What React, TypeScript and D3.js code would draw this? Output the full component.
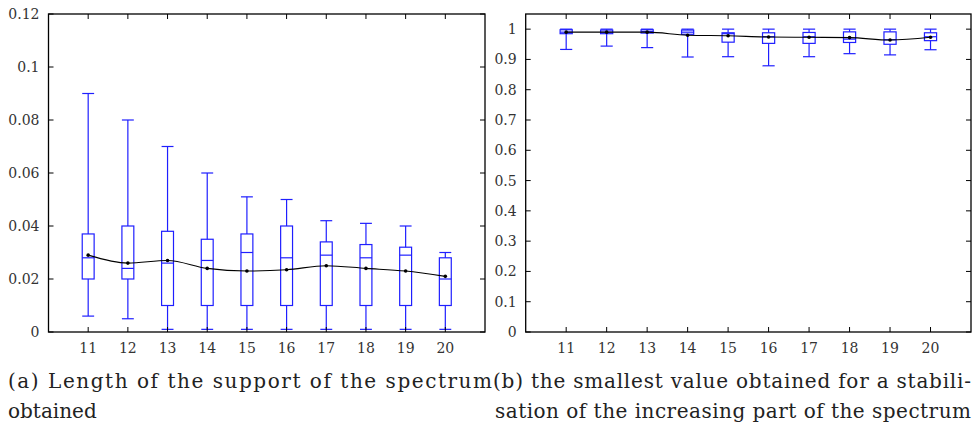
import React from "react";
import * as d3 from "d3";

const categories = [11, 12, 13, 14, 15, 16, 17, 18, 19, 20];

// Chart (a): Length of the support of the spectrum
const aMin = [0.006, 0.005, 0.001, 0.001, 0.001, 0.001, 0.001, 0.001, 0.001, 0.001];
const aQ1 = [0.02, 0.02, 0.01, 0.01, 0.01, 0.01, 0.01, 0.01, 0.01, 0.01];
const aMed = [0.028, 0.024, 0.026, 0.027, 0.03, 0.028, 0.029, 0.028, 0.029, 0.02];
const aQ3 = [0.037, 0.04, 0.038, 0.035, 0.037, 0.04, 0.034, 0.033, 0.032, 0.028];
const aMax = [0.09, 0.08, 0.07, 0.06, 0.051, 0.05, 0.042, 0.041, 0.04, 0.03];
const aMean = [0.029, 0.026, 0.027, 0.024, 0.023, 0.0235, 0.025, 0.024, 0.023, 0.021];
const aTicks = [0, 0.02, 0.04, 0.06, 0.08, 0.1, 0.12];
const aTickLabels = ["0", "0.02", "0.04", "0.06", "0.08", "0.1", "0.12"];

// Chart (b): smallest value obtained for a stabilisation
const bMin = [0.933, 0.944, 0.939, 0.908, 0.909, 0.879, 0.909, 0.919, 0.915, 0.932];
const bQ1 = [0.985, 0.985, 0.987, 0.983, 0.957, 0.953, 0.953, 0.956, 0.95, 0.962];
const bMed = [0.99, 0.99, 0.992, 0.99, 0.985, 0.975, 0.975, 0.967, 0.965, 0.975];
const bQ3 = [0.998, 0.997, 0.998, 0.997, 0.988, 0.988, 0.989, 0.991, 0.991, 0.988];
const bMax = [1.0, 1.0, 1.0, 1.0, 1.0, 1.0, 1.0, 1.0, 1.0, 1.0];
const bMean = [0.99, 0.99, 0.99, 0.98, 0.978, 0.974, 0.973, 0.972, 0.964, 0.973];
const bTicks = [0, 0.1, 0.2, 0.3, 0.4, 0.5, 0.6, 0.7, 0.8, 0.9, 1];
const bTickLabels = ["0", "0.1", "0.2", "0.3", "0.4", "0.5", "0.6", "0.7", "0.8", "0.9", "1"];

const captionA1 = "(a) Length of the support of the spectrum";
const captionA2 = "obtained";
const captionB1 = "(b) the smallest value obtained for a stabili-";
const captionB2 = "sation of the increasing part of the spectrum";

const FONT = "DejaVu Serif";
const BLUE = "#1f1fff";

type PanelProps = {
  x0: number;
  x1: number;
  y0: number;
  y1: number;
  yDomain: [number, number];
  ticks: number[];
  tickLabels: string[];
  mins: number[];
  q1: number[];
  med: number[];
  q3: number[];
  maxs: number[];
  means: number[];
};

function Panel(p: PanelProps) {
  const x = d3.scaleLinear().domain([10, 21]).range([p.x0, p.x1]);
  const y = d3.scaleLinear().domain(p.yDomain).range([p.y1, p.y0]);
  const bw = (x(11) - x(10)) * 0.3;
  const tl = 5;
  const line = d3
    .line<number>()
    .x((_, i) => x(categories[i]))
    .y((d) => y(d))
    .curve(d3.curveMonotoneX);
  return (
    <g>
      {categories.map((c, i) => {
        const cx = x(c);
        return (
          <g key={c} stroke={BLUE} strokeWidth={1.2} fill="none">
            <line x1={cx} x2={cx} y1={y(p.q3[i])} y2={y(p.maxs[i])} />
            <line x1={cx} x2={cx} y1={y(p.q1[i])} y2={y(p.mins[i])} />
            <line x1={cx - bw / 2} x2={cx + bw / 2} y1={y(p.maxs[i])} y2={y(p.maxs[i])} />
            <line x1={cx - bw / 2} x2={cx + bw / 2} y1={y(p.mins[i])} y2={y(p.mins[i])} />
            <rect x={cx - bw / 2} y={y(p.q3[i])} width={bw} height={y(p.q1[i]) - y(p.q3[i])} />
            <line x1={cx - bw / 2} x2={cx + bw / 2} y1={y(p.med[i])} y2={y(p.med[i])} />
          </g>
        );
      })}
      <path d={line(p.means) || ""} fill="none" stroke="#000" strokeWidth={1.1} />
      {p.means.map((m, i) => (
        <circle key={i} cx={x(categories[i])} cy={y(m)} r={1.8} fill="#000" />
      ))}
      <rect x={p.x0} y={p.y0} width={p.x1 - p.x0} height={p.y1 - p.y0} fill="none" stroke="#000" strokeWidth={1.3} />
      {p.ticks.map((t, i) => (
        <g key={"y" + i}>
          <line x1={p.x0} x2={p.x0 + tl} y1={y(t)} y2={y(t)} stroke="#000" strokeWidth={1} />
          <line x1={p.x1} x2={p.x1 - tl} y1={y(t)} y2={y(t)} stroke="#000" strokeWidth={1} />
          <text
            x={p.x0 - 9}
            y={y(t)}
            dy="0.36em"
            textAnchor="end"
            fontFamily={FONT}
            fontSize={14}
            fill="#333"
          >
            {p.tickLabels[i]}
          </text>
        </g>
      ))}
      {categories.map((c) => (
        <g key={"x" + c}>
          <line x1={x(c)} x2={x(c)} y1={p.y1} y2={p.y1 - tl} stroke="#000" strokeWidth={1} />
          <line x1={x(c)} x2={x(c)} y1={p.y0} y2={p.y0 + tl} stroke="#000" strokeWidth={1} />
          <text x={x(c)} y={p.y1 + 21} textAnchor="middle" fontFamily={FONT} fontSize={14} fill="#333">
            {c}
          </text>
        </g>
      ))}
    </g>
  );
}

export default function App() {
  return (
    <svg
      width={973}
      height={426}
      style={{ position: "absolute", left: 0, top: 0, background: "#fff" }}
    >
      <rect x={0} y={0} width={973} height={426} fill="#fff" />
      <Panel
        x0={48.5}
        x1={485}
        y0={14}
        y1={332}
        yDomain={[0, 0.12]}
        ticks={aTicks}
        tickLabels={aTickLabels}
        mins={aMin}
        q1={aQ1}
        med={aMed}
        q3={aQ3}
        maxs={aMax}
        means={aMean}
      />
      <Panel
        x0={525.7}
        x1={971}
        y0={14}
        y1={332}
        yDomain={[0, 1.05]}
        ticks={bTicks}
        tickLabels={bTickLabels}
        mins={bMin}
        q1={bQ1}
        med={bMed}
        q3={bQ3}
        maxs={bMax}
        means={bMean}
      />
      <g fontFamily={FONT} fontSize={20} fill="#222">
        <text x={8} y={388} textLength={484} lengthAdjust="spacing">
          {captionA1}
        </text>
        <text x={8} y={418}>
          {captionA2}
        </text>
        <text x={493} y={388} textLength={478} lengthAdjust="spacing">
          {captionB1}
        </text>
        <text x={495} y={418} textLength={476} lengthAdjust="spacing">
          {captionB2}
        </text>
      </g>
    </svg>
  );
}
